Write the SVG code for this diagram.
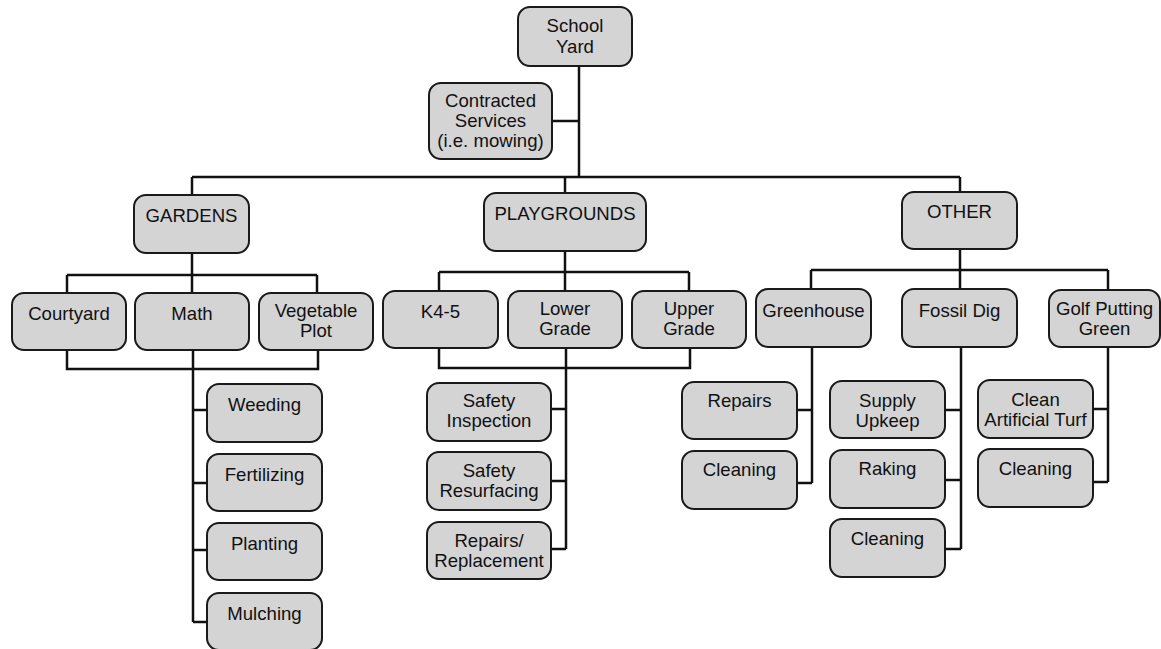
<svg xmlns="http://www.w3.org/2000/svg" width="1161" height="649" viewBox="0 0 1161 649">
<style>
.b{fill:#d4d4d4;stroke:#1a1a1a;stroke-width:2}
.t{font-family:"Liberation Sans",Arial,sans-serif;font-size:18.6px;fill:#111;text-anchor:middle}
.c{fill:none;stroke:#111;stroke-width:2.5}
</style>
<rect width="1161" height="649" fill="#ffffff"/>
<g id="connectors" class="c">
<path d="M579,66 V177"/>
<path d="M552,121 H579"/>
<path d="M192,177 H960"/>
<path d="M192,177 V195 M565,177 V193 M960,177 V192"/>
<path d="M192,253 V293 M67,275 H317 M67,275 V293 M317,275 V293"/>
<path d="M67,350 V369 H318 V350"/>
<path d="M193,350 V622 M193,410 H207 M193,483 H207 M193,550 H207 M193,622 H207"/>
<path d="M565,251 V291 M439,272 H689 M439,272 V291 M689,272 V291"/>
<path d="M439,348 V368 H690 V348"/>
<path d="M566,348 V549 M551,409 H566 M551,481 H566 M551,549 H566"/>
<path d="M960,249 V289 M811,270 H1108 M811,270 V289 M1108,270 V290"/>
<path d="M812,347 V483 M797,410 H812 M797,483 H812"/>
<path d="M961,347 V549 M945,410 H961 M945,480 H961 M945,549 H961"/>
<path d="M1108,347 V482 M1093,409 H1108 M1093,482 H1108"/>
</g>
<g id="school-yard"><rect class="b" x="518" y="7" width="114" height="59" rx="12"/><text class="t" x="575" y="32">School</text><text class="t" x="575" y="53">Yard</text></g>
<g id="contracted"><rect class="b" x="429" y="83" width="123" height="76" rx="12"/><text class="t" x="490.5" y="107">Contracted</text><text class="t" x="490.5" y="127">Services</text><text class="t" x="490.5" y="147">(i.e. mowing)</text></g>
<g id="gardens"><rect class="b" x="134" y="195" width="115" height="58" rx="12"/><text class="t" x="191.5" y="222">GARDENS</text></g>
<g id="playgrounds"><rect class="b" x="484" y="193" width="162" height="58" rx="12"/><text class="t" x="565" y="220">PLAYGROUNDS</text></g>
<g id="other"><rect class="b" x="902" y="192" width="115" height="57" rx="12"/><text class="t" x="959.5" y="218">OTHER</text></g>
<g id="courtyard"><rect class="b" x="12" y="293" width="114" height="57" rx="12"/><text class="t" x="69" y="320">Courtyard</text></g>
<g id="math"><rect class="b" x="135" y="293" width="114" height="57" rx="12"/><text class="t" x="192" y="320">Math</text></g>
<g id="vegetable-plot"><rect class="b" x="259" y="293" width="114" height="57" rx="12"/><text class="t" x="316" y="317">Vegetable</text><text class="t" x="316" y="337">Plot</text></g>
<g id="k4-5"><rect class="b" x="383" y="291" width="115" height="57" rx="12"/><text class="t" x="440.5" y="318">K4-5</text></g>
<g id="lower-grade"><rect class="b" x="508" y="291" width="114" height="57" rx="12"/><text class="t" x="565" y="315">Lower</text><text class="t" x="565" y="335">Grade</text></g>
<g id="upper-grade"><rect class="b" x="632" y="291" width="114" height="57" rx="12"/><text class="t" x="689" y="315">Upper</text><text class="t" x="689" y="335">Grade</text></g>
<g id="greenhouse"><rect class="b" x="756" y="289" width="115" height="58" rx="12"/><text class="t" x="813.5" y="317">Greenhouse</text></g>
<g id="fossil-dig"><rect class="b" x="902" y="289" width="115" height="58" rx="12"/><text class="t" x="959.5" y="317">Fossil Dig</text></g>
<g id="golf"><rect class="b" x="1049" y="290" width="111" height="57" rx="12"/><text class="t" x="1104.5" y="315">Golf Putting</text><text class="t" x="1104.5" y="335">Green</text></g>
<g id="weeding"><rect class="b" x="207" y="384" width="115" height="58" rx="12"/><text class="t" x="264.5" y="411">Weeding</text></g>
<g id="fertilizing"><rect class="b" x="207" y="454" width="115" height="57" rx="12"/><text class="t" x="264.5" y="481">Fertilizing</text></g>
<g id="planting"><rect class="b" x="207" y="523" width="115" height="57" rx="12"/><text class="t" x="264.5" y="550">Planting</text></g>
<g id="mulching"><rect class="b" x="207" y="593" width="115" height="57" rx="12"/><text class="t" x="264.5" y="620">Mulching</text></g>
<g id="safety-inspection"><rect class="b" x="427" y="383" width="124" height="58" rx="12"/><text class="t" x="489" y="407">Safety</text><text class="t" x="489" y="427">Inspection</text></g>
<g id="safety-resurfacing"><rect class="b" x="427" y="452" width="124" height="58" rx="12"/><text class="t" x="489" y="477">Safety</text><text class="t" x="489" y="497">Resurfacing</text></g>
<g id="repairs-replacement"><rect class="b" x="427" y="522" width="124" height="57" rx="12"/><text class="t" x="489" y="547">Repairs/</text><text class="t" x="489" y="567">Replacement</text></g>
<g id="gh-repairs"><rect class="b" x="682" y="382" width="115" height="57" rx="12"/><text class="t" x="739.5" y="407">Repairs</text></g>
<g id="gh-cleaning"><rect class="b" x="682" y="451" width="115" height="58" rx="12"/><text class="t" x="739.5" y="476">Cleaning</text></g>
<g id="supply-upkeep"><rect class="b" x="830" y="381" width="115" height="57" rx="12"/><text class="t" x="887.5" y="407">Supply</text><text class="t" x="887.5" y="427">Upkeep</text></g>
<g id="raking"><rect class="b" x="830" y="450" width="115" height="58" rx="12"/><text class="t" x="887.5" y="475">Raking</text></g>
<g id="fd-cleaning"><rect class="b" x="830" y="519" width="115" height="58" rx="12"/><text class="t" x="887.5" y="545">Cleaning</text></g>
<g id="clean-turf"><rect class="b" x="978" y="380" width="115" height="58" rx="12"/><text class="t" x="1035.5" y="406">Clean</text><text class="t" x="1035.5" y="426">Artificial Turf</text></g>
<g id="golf-cleaning"><rect class="b" x="978" y="449" width="115" height="58" rx="12"/><text class="t" x="1035.5" y="475">Cleaning</text></g>
</svg>
